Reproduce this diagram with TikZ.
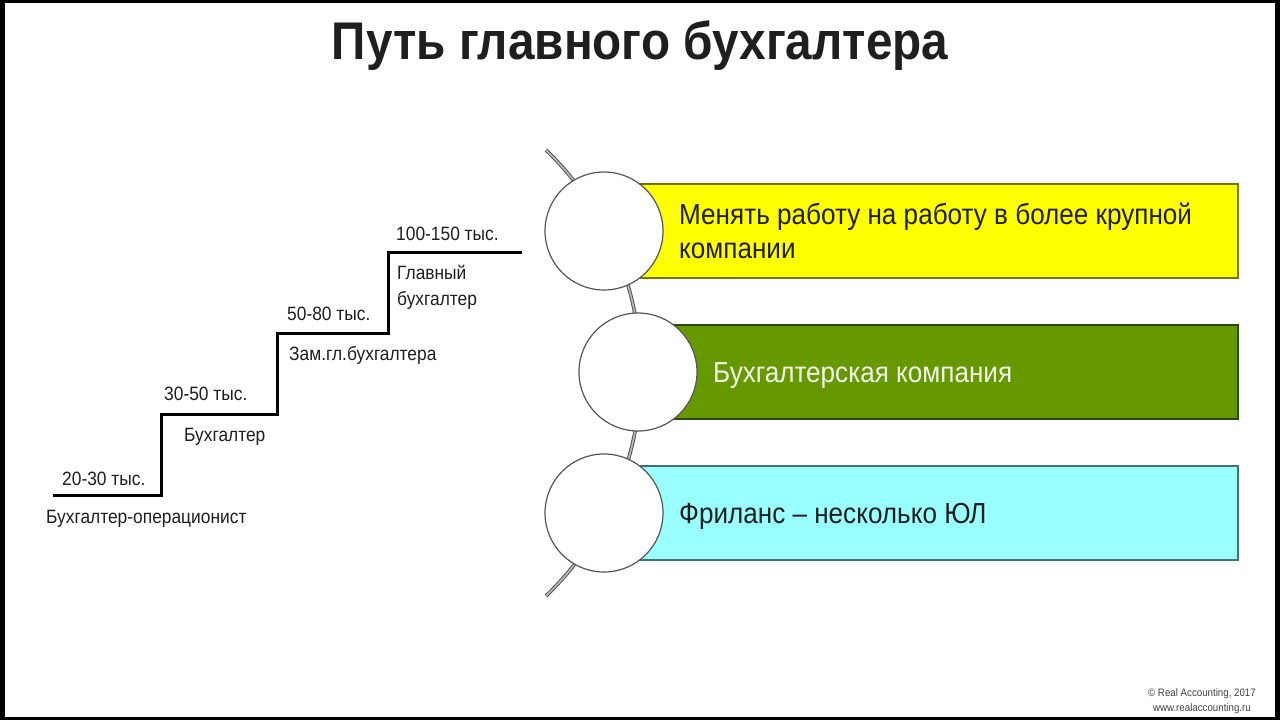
\documentclass[tikz,border=0pt]{standalone}
\usepackage{fontspec}
\setmainfont{Liberation Sans}
\newfontfamily\narrowf[FakeStretch=0.9]{Liberation Sans}
\definecolor{ygold}{HTML}{FFFF00}
\definecolor{olivegr}{HTML}{669900}
\definecolor{aqua}{HTML}{99FFFF}
\definecolor{edgegr}{HTML}{555555}
\definecolor{inktxt}{HTML}{1F1F1F}
\tikzset{
  bar/.style={draw=#1!45!black,line width=1.1pt,fill=#1},
  disc/.style={circle,draw=edgegr,line width=1.2pt,fill=white,minimum size=118pt,inner sep=0pt},
  big/.style={anchor=base west,inner sep=0pt,text=inktxt,font=\narrowf\fontsize{29}{33}\selectfont,align=left},
  small/.style={anchor=base west,inner sep=0pt,text=inktxt,font=\narrowf\fontsize{19.3}{22}\selectfont,align=left},
  stair/.style={line width=3pt,black,line join=miter},
  spine/.style={draw=edgegr,line width=1pt,double=gray!55,double distance=1.6pt},
  foot/.style={anchor=base east,inner sep=0pt,text=black!75,font=\narrowf\fontsize{10.8}{13}\selectfont}
}
\begin{document}
\begin{tikzpicture}[x=1pt,y=-1pt]
\useasboundingbox (0,0) rectangle (1280,720);
\fill[black] (0,0) rectangle (1280,720);
\fill[white] (5,3) rectangle (1275,717);
\node[anchor=base,inner sep=0pt,text=inktxt,font=\narrowf\fontsize{53}{60}\selectfont\bfseries] (title) at (640,59) {Путь главного бухгалтера};

\coordinate (arcstart) at (546,150);
\draw[spine] (arcstart) arc[start angle=46,end angle=-46,radius=310pt];

\draw[bar=ygold] (600,184) rectangle (1238,278);
\draw[bar=olivegr] (638,325) rectangle (1238,419);
\draw[bar=aqua] (600,466) rectangle (1238,560);
\node[disc] (c1) at (604,231) {};
\node[disc] (c2) at (638,372) {};
\node[disc] (c3) at (604,513) {};

\node[big] (t1) at (679,224) {Менять работу на работу в более крупной};
\node[big] (t1b) at (679,258) {компании};
\node[big,text=white!92!olivegr] (t2) at (713,382) {Бухгалтерская компания};
\node[big,text=inktxt] (t3) at (679,523) {Фриланс – несколько ЮЛ};

\coordinate (s0) at (53,495);
\coordinate (s1) at (161,414);
\coordinate (s2) at (277,333);
\coordinate (s3) at (388,252);
\coordinate (s4) at (522,252);
\draw[stair] (s0) -| (s1) -| (s2) -| (s3) -- (s4);

\node[small] (a1) at (62,485) {20-30 тыс.};
\node[small] (a2) at (46,523) {Бухгалтер-операционист};
\node[small] (b1) at (164,400) {30-50 тыс.};
\node[small] (b2) at (184,441) {Бухгалтер};
\node[small] (d1) at (287,320) {50-80 тыс.};
\node[small] (d2) at (289,360) {Зам.гл.бухгалтера};
\node[small] (e1) at (396,240) {100-150 тыс.};
\node[small] (e2) at (397,279) {Главный};
\node[small] (e3) at (397,305) {бухгалтер};

\node[foot] (f1) at (1256,696) {© Real Accounting, 2017};
\node[foot] (f2) at (1251,711) {www.realaccounting.ru};
\end{tikzpicture}
\end{document}
